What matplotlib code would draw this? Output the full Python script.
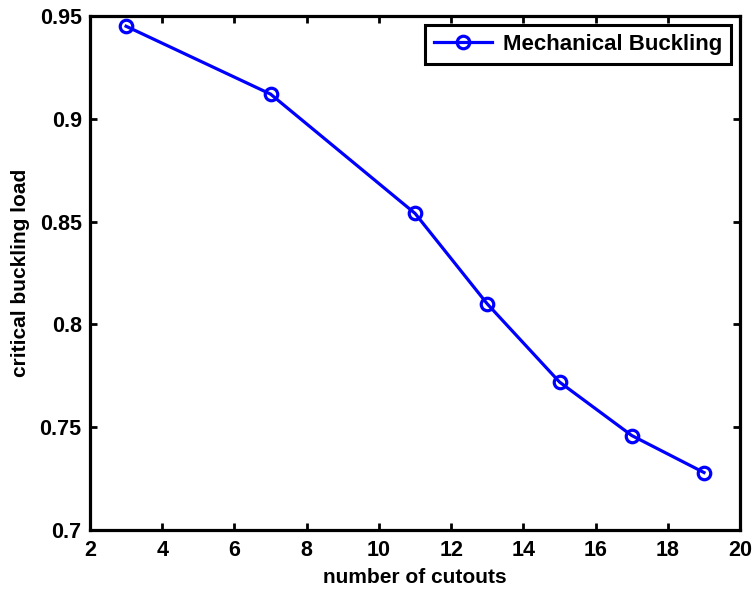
import numpy as np
import matplotlib
matplotlib.use('Agg')
import matplotlib.pyplot as plt

plt.rcParams['font.family'] = ['Liberation Sans', 'DejaVu Sans']
plt.rcParams['font.weight'] = 'bold'

cutouts = [3, 7, 11, 13, 15, 17, 19]
load = [0.945, 0.912, 0.854, 0.810, 0.772, 0.746, 0.728]

fig = plt.figure(figsize=(7.56, 5.91), dpi=100)
ax = fig.add_axes([0.119, 0.103, 0.860, 0.870])

ax.plot(cutouts, load, 'o-', color='#0000ff', lw=2.3, ms=9, mew=2.3,
        mfc='none', label='Mechanical Buckling')

ax.set_xlim(2, 20)
ax.set_ylim(0.7, 0.95)
ax.set_xticks(np.arange(2, 21, 2))
ax.set_yticks([0.7, 0.75, 0.8, 0.85, 0.9, 0.95])
ax.set_yticklabels(['0.7', '0.75', '0.8', '0.85', '0.9', '0.95'])
ax.tick_params(direction='in', top=True, right=True, length=5, width=2,
               labelsize=15.5)
ax.tick_params(axis='x', pad=7)
ax.tick_params(axis='y', pad=6)
for s in ax.spines.values():
    s.set_linewidth(2.3)

ax.set_xlabel('number of cutouts', fontsize=15, fontweight='bold', labelpad=5)
ax.set_ylabel('critical buckling load', fontsize=15, fontweight='bold', labelpad=7)

leg = ax.legend(loc='upper right', fontsize=16, fancybox=False,
                framealpha=1, borderaxespad=0.4, handlelength=2.6,
                borderpad=0.4, handletextpad=0.5)
leg.get_frame().set_edgecolor('black')
leg.get_frame().set_linewidth(2.2)

plt.savefig('out.png', dpi=100)
